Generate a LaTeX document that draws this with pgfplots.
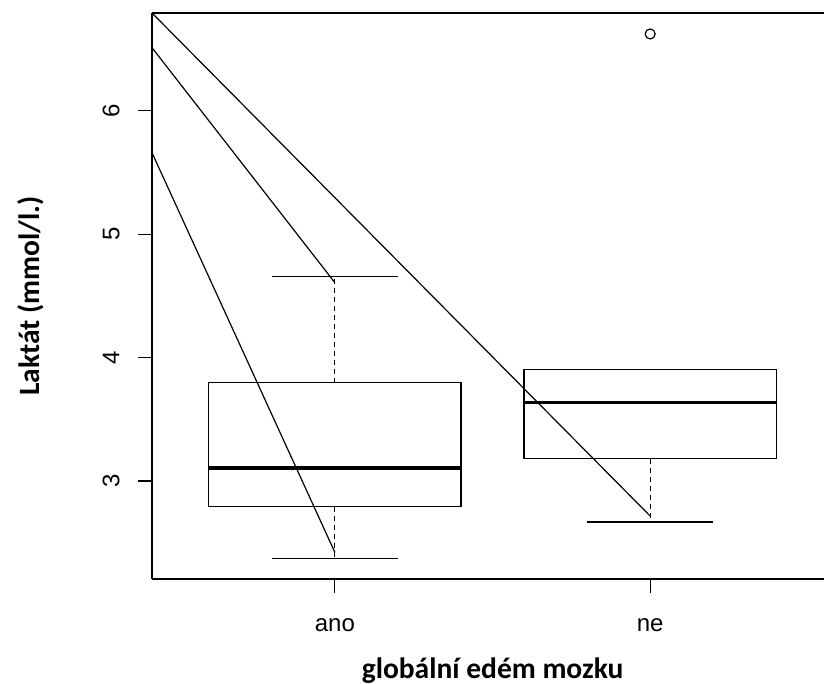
\documentclass[border=0pt]{standalone}
\usepackage{pgfplots}
\pgfplotsset{compat=1.18}
\usepackage{fontspec}
\setmainfont{Liberation Sans}
\newfontfamily\labelfont{Carlito}
\begin{document}
\begin{tikzpicture}
\begin{axis}[
  scale only axis,
  width=672pt, height=566pt,
  at={(0,0)}, anchor=south west,
  xmin=0.42, xmax=2.5513,
  ymin=2.206, ymax=6.792,
  axis x line=box, axis y line=left,
  axis line style={-, line width=1.5pt},
  xtick={1,2}, xticklabels={ano,ne},
  ytick={3,4,5,6},
  xtick pos=bottom, ytick pos=left,
  tick align=outside,
  major tick length=14pt,
  every tick/.style={black, line width=1.1pt},
  /pgf/number format/assume math mode=true,
  tick label style={font=\fontsize{24}{28}\selectfont},
  xticklabel style={anchor=base, yshift=-38.7pt},
  yticklabel style={xshift=-18.7pt, rotate=90, anchor=base},
  every axis x label/.style={at={(axis description cs:0.5068,-0.1750)}, anchor=base},
  every axis y label/.style={at={(axis description cs:-0.167,0.5)}, rotate=90, anchor=base},
  label style={font=\labelfont\bfseries\fontsize{29.5}{33}\selectfont},
  xlabel={globální edém mozku},
  ylabel={Laktát (mmol/l.)},
  clip=true,
]
% --- box "ano" ---
\addplot[black, line width=1.3pt] coordinates {(0.6,2.792) (1.4,2.792) (1.4,3.797) (0.6,3.797) (0.6,2.792)};
\addplot[black, line width=3.7pt] coordinates {(0.6,3.103) (1.4,3.103)};
\addplot[black, line width=1.2pt, dash pattern=on 5pt off 4pt] coordinates {(1,3.797) (1,4.656)};
\addplot[black, line width=1.2pt, dash pattern=on 5pt off 4pt] coordinates {(1,2.792) (1,2.374)};
\addplot[black, line width=1.2pt] coordinates {(0.8,4.656) (1.2,4.656)};
\addplot[black, line width=1.2pt] coordinates {(0.8,2.374) (1.2,2.374)};
% --- box "ne" ---
\addplot[black, line width=1.3pt] coordinates {(1.6,3.181) (2.4,3.181) (2.4,3.902) (1.6,3.902) (1.6,3.181)};
\addplot[black, line width=3.7pt] coordinates {(1.6,3.635) (2.4,3.635)};
\addplot[black, line width=1.2pt, dash pattern=on 5pt off 4pt] coordinates {(2,3.181) (2,2.668)};
\addplot[black, line width=1.2pt] coordinates {(1.8,3.902) (2.2,3.902)};
\addplot[black, line width=1.2pt] coordinates {(1.8,2.668) (2.2,2.668)};
% outlier
\addplot[only marks, mark=o, mark size=5pt, mark options={line width=1.2pt, black}] coordinates {(2,6.622)};
% straight lines
\addplot[black, line width=1.2pt] coordinates {(0.42,6.792) (2,2.716)};
\addplot[black, line width=1.2pt] coordinates {(0.42,6.511) (1,4.607)};
\addplot[black, line width=1.2pt] coordinates {(0.42,5.660) (1,2.422)};
\end{axis}
\pgfresetboundingbox
\useasboundingbox (-152pt,-105pt) rectangle (672pt,579pt);
\end{tikzpicture}
\end{document}
